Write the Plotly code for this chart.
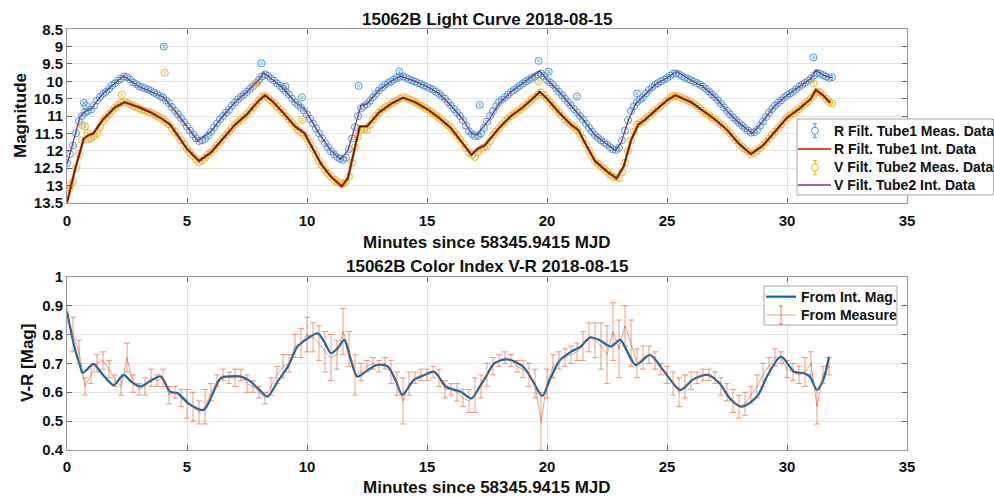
import numpy as np
import plotly.graph_objects as go

# ---------------- data ----------------
# magnitude measurement times: one sample every 0.125 min
T_MAG = np.round(np.arange(0, 32, 0.125), 3)
# colour-index measurement times: one sample every 0.25 min
T_VR = np.round(np.arange(0, 32, 0.25), 2)

R_MEAS = [12.36, 12.1, 11.85, 11.5, 11.15, 11.0, 10.9, 10.86, 10.82, 10.7, 10.55, 10.45, 10.36, 10.3, 10.22, 10.12,
          10.06, 9.98, 9.92, 9.86, 9.88, 9.95, 10.03, 10.08, 10.14, 10.17, 10.2, 10.24, 10.28, 10.33, 10.37, 10.42,
          10.47, 10.55, 10.63, 10.74, 10.85, 10.95, 11.06, 11.18, 11.3, 11.42, 11.53, 11.64, 11.72, 11.7, 11.66, 11.56,
          11.46, 11.33, 11.21, 11.1, 11.0, 10.9, 10.82, 10.7, 10.61, 10.52, 10.44, 10.37, 10.3, 10.22, 10.14, 10.05,
          9.96, 9.86, 9.8, 9.84, 9.92, 9.98, 10.06, 10.13, 10.21, 10.3, 10.38, 10.5, 10.6, 10.68, 10.76, 10.85,
          10.96, 11.08, 11.22, 11.36, 11.5, 11.64, 11.78, 11.9, 12.02, 12.1, 12.18, 12.23, 12.26, 12.2, 11.95, 11.65,
          11.32, 11.0, 10.78, 10.72, 10.66, 10.56, 10.46, 10.36, 10.26, 10.18, 10.1, 10.05, 10.01, 9.95, 9.9, 9.87,
          9.86, 9.9, 9.94, 9.98, 10.01, 10.05, 10.08, 10.12, 10.16, 10.2, 10.24, 10.3, 10.36, 10.43, 10.5, 10.6,
          10.7, 10.8, 10.9, 11.0, 11.12, 11.28, 11.44, 11.52, 11.58, 11.57, 11.5, 11.34, 11.16, 11.0, 10.86, 10.72,
          10.6, 10.53, 10.46, 10.38, 10.31, 10.25, 10.19, 10.12, 10.06, 10.0, 9.95, 9.9, 9.86, 9.81, 9.77, 9.85,
          9.96, 10.03, 10.1, 10.2, 10.3, 10.4, 10.5, 10.6, 10.7, 10.8, 10.9, 11.0, 11.1, 11.22, 11.34, 11.45,
          11.55, 11.63, 11.7, 11.76, 11.82, 11.9, 11.96, 11.98, 11.92, 11.7, 11.42, 11.12, 10.86, 10.72, 10.6, 10.52,
          10.46, 10.35, 10.25, 10.17, 10.1, 10.05, 10.0, 9.95, 9.9, 9.84, 9.78, 9.77, 9.8, 9.85, 9.9, 9.93,
          9.97, 10.01, 10.05, 10.1, 10.15, 10.22, 10.3, 10.38, 10.46, 10.55, 10.65, 10.75, 10.85, 10.95, 11.04, 11.12,
          11.2, 11.28, 11.35, 11.42, 11.48, 11.47, 11.4, 11.28, 11.16, 11.03, 10.9, 10.8, 10.7, 10.62, 10.55, 10.47,
          10.4, 10.35, 10.3, 10.23, 10.16, 10.1, 10.05, 9.98, 9.92, 9.84, 9.76, 9.78, 9.82, 9.86, 9.9, 9.88]
R_OUT_T = [0.7, 0.8, 4.03, 8.1, 9.1, 9.79, 12.15, 13.85, 17.2, 19.65, 20.07, 21.25, 23.75, 31.1]
R_OUT_M = [10.62, 10.7, 9.0, 9.48, 10.15, 10.46, 10.13, 9.72, 10.68, 9.41, 9.72, 10.44, 10.35, 9.31]

V_MEAS = [13.1, 13.0, 12.9, 12.5, 12.1, 11.7, 11.3, 11.5, 11.65, 11.58, 11.5, 11.32, 11.15, 11.05, 10.95, 10.85,
          10.76, 10.68, 10.62, 10.6, 10.62, 10.66, 10.7, 10.74, 10.78, 10.82, 10.85, 10.88, 10.9, 10.95, 11.0, 11.05,
          11.1, 11.17, 11.25, 11.35, 11.46, 11.58, 11.7, 11.82, 11.95, 12.05, 12.15, 12.25, 12.33, 12.28, 12.2, 12.12,
          12.05, 11.95, 11.85, 11.75, 11.65, 11.55, 11.45, 11.35, 11.25, 11.17, 11.1, 11.02, 10.95, 10.85, 10.75, 10.65,
          10.55, 10.45, 10.42, 10.48, 10.55, 10.63, 10.72, 10.81, 10.9, 11.0, 11.1, 11.2, 11.3, 11.4, 11.48, 11.55,
          11.65, 11.8, 11.95, 12.12, 12.3, 12.42, 12.55, 12.65, 12.75, 12.83, 12.9, 12.94, 12.95, 12.9, 12.75, 12.35,
          11.9, 11.6, 11.4, 11.38, 11.4, 11.25, 11.1, 11.0, 10.9, 10.82, 10.75, 10.7, 10.65, 10.6, 10.55, 10.5,
          10.45, 10.48, 10.52, 10.56, 10.6, 10.65, 10.7, 10.75, 10.8, 10.86, 10.92, 10.98, 11.05, 11.12, 11.2, 11.27,
          11.35, 11.45, 11.55, 11.67, 11.8, 11.92, 12.05, 12.12, 12.18, 12.05, 11.95, 11.9, 11.88, 11.72, 11.55, 11.45,
          11.35, 11.25, 11.15, 11.07, 11.0, 10.94, 10.88, 10.82, 10.75, 10.68, 10.6, 10.52, 10.45, 10.38, 10.32, 10.4,
          10.5, 10.6, 10.7, 10.8, 10.9, 11.0, 11.1, 11.18, 11.25, 11.32, 11.4, 11.5, 11.65, 11.82, 12.0, 12.15,
          12.3, 12.38, 12.45, 12.52, 12.6, 12.68, 12.75, 12.78, 12.8, 12.62, 12.35, 12.0, 11.7, 11.45, 11.25, 11.2,
          11.15, 11.07, 11.0, 10.92, 10.85, 10.78, 10.7, 10.62, 10.55, 10.48, 10.42, 10.42, 10.45, 10.48, 10.52, 10.56,
          10.6, 10.66, 10.72, 10.78, 10.85, 10.92, 10.98, 11.04, 11.1, 11.18, 11.25, 11.32, 11.4, 11.5, 11.6, 11.7,
          11.8, 11.88, 11.95, 12.02, 12.1, 12.06, 12.0, 11.93, 11.85, 11.75, 11.65, 11.55, 11.45, 11.35, 11.25, 11.15,
          11.05, 10.98, 10.92, 10.86, 10.8, 10.72, 10.65, 10.58, 10.5, 10.4, 10.3, 10.32, 10.4, 10.5, 10.6, 10.64]
V_OUT_T = [0.1, 0.62, 0.9, 2.29, 4.07, 7.92, 9.8, 19.65, 31.1]
V_OUT_M = [13.1, 11.26, 11.67, 10.39, 9.75, 10.06, 11.1, 10.0, 10.05]

# interpolated light curves
LOW_T = [0, 0.35, 0.7, 0.9, 1.1, 1.5, 2.0, 2.4, 3.0, 3.5, 4.0, 4.3, 4.6, 5.0, 5.5, 6.0, 6.5, 7.0, 7.5,
         8.0, 8.25, 8.6, 9.0, 9.5, 9.9, 10.2, 10.6, 11.0, 11.45, 11.7, 12.0, 12.2, 12.5, 13.0, 13.5,
         14.0, 14.5, 15.0, 15.5, 16.0, 16.5, 16.85, 17.1, 17.4, 17.7, 18.0, 18.5, 19.0, 19.4, 19.7,
         20.0, 20.5, 21.0, 21.3, 21.6, 22.0, 22.5, 22.9, 23.2, 23.5, 23.8, 24.1, 24.5, 25.0, 25.35,
         26.0, 26.5, 27.0, 27.5, 28.0, 28.5, 29.0, 29.5, 30.0, 30.5, 31.0, 31.2, 31.5, 31.8]
LOW_M = [13.5, 12.5, 11.65, 11.55, 11.5, 11.1, 10.75, 10.6, 10.75, 10.9, 11.1, 11.25, 11.55, 11.95, 12.3,
         12.05, 11.65, 11.25, 10.95, 10.55, 10.4, 10.6, 10.9, 11.3, 11.5, 11.9, 12.4, 12.75, 13.03, 12.8,
         11.9, 11.3, 11.3, 10.9, 10.65, 10.47, 10.6, 10.8, 11.05, 11.35, 11.8, 12.12, 11.95, 11.85, 11.6,
         11.35, 11.0, 10.75, 10.5, 10.3, 10.5, 10.9, 11.25, 11.4, 11.8, 12.3, 12.6, 12.8, 12.45, 11.7,
         11.25, 11.1, 10.85, 10.55, 10.4, 10.6, 10.85, 11.1, 11.4, 11.8, 12.1, 11.85, 11.45, 11.05, 10.8,
         10.5, 10.25, 10.4, 10.62]
UP_T = [0, 0.55, 0.8, 1.0, 1.5, 2.0, 2.35, 3.0, 3.5, 4.0, 4.5, 5.0, 5.45, 6.0, 6.5, 7.0, 7.5, 8.0, 8.2,
        8.5, 9.0, 9.5, 9.9, 10.5, 11.0, 11.4, 11.7, 12.0, 12.25, 12.5, 13.0, 13.5, 13.9, 14.5, 15.0,
        15.5, 16.0, 16.5, 16.85, 17.1, 17.3, 17.6, 18.0, 18.5, 19.0, 19.7, 20.0, 20.5, 21.0, 21.5, 22.0,
        22.5, 22.85, 23.1, 23.4, 23.7, 24.0, 24.5, 25.0, 25.4, 26.0, 26.5, 27.0, 27.5, 28.0, 28.55,
        29.0, 29.5, 30.0, 30.5, 31.0, 31.2, 31.5, 31.85]
UP_M = [12.4, 11.0, 10.85, 10.8, 10.35, 10.05, 9.85, 10.15, 10.3, 10.45, 10.85, 11.3, 11.72, 11.45, 11.0,
        10.6, 10.3, 9.95, 9.75, 9.92, 10.2, 10.6, 10.8, 11.5, 12.0, 12.25, 12.0, 11.3, 10.7, 10.65, 10.25,
        10.0, 9.85, 10.0, 10.15, 10.35, 10.7, 11.1, 11.5, 11.55, 11.35, 11.1, 10.65, 10.3, 10.05, 9.7,
        9.95, 10.3, 10.7, 11.1, 11.55, 11.8, 12.0, 11.75, 11.1, 10.65, 10.45, 10.1, 9.9, 9.72, 9.97,
        10.15, 10.45, 10.85, 11.2, 11.5, 11.15, 10.7, 10.4, 10.15, 9.92, 9.68, 9.82, 9.9]

# colour index V-R
VR_INT_T = [0, 0.3, 0.55, 0.65, 0.85, 1.1, 1.5, 1.95, 2.35, 2.7, 3.05, 3.5, 3.9, 4.3, 4.6, 5.15, 5.7,
            6.1, 6.4, 6.8, 7.25, 7.6, 8.0, 8.35, 8.8, 9.2, 9.6, 10.0, 10.45, 10.75, 11.0, 11.3, 11.55,
            11.8, 12.1, 12.5, 12.9, 13.35, 13.7, 13.97, 14.45, 14.9, 15.3, 15.8, 16.4, 16.85, 17.2,
            17.5, 17.8, 18.35, 19.0, 19.4, 19.8, 20.15, 20.55, 21.0, 21.4, 21.8, 22.2, 22.65, 23.05,
            23.35, 23.7, 24.3, 24.9, 25.55, 26.1, 26.7, 27.2, 27.6, 28.1, 28.75, 29.2, 29.75, 30.3,
            30.7, 30.95, 31.25, 31.5, 31.75]
VR_INT = [0.88, 0.76, 0.69, 0.667, 0.68, 0.698, 0.66, 0.625, 0.66, 0.635, 0.62, 0.64, 0.655, 0.602,
          0.597, 0.556, 0.539, 0.6, 0.648, 0.655, 0.654, 0.64, 0.61, 0.585, 0.64, 0.688, 0.758, 0.785,
          0.804, 0.77, 0.735, 0.755, 0.781, 0.72, 0.654, 0.675, 0.694, 0.69, 0.64, 0.591, 0.642, 0.66,
          0.671, 0.619, 0.602, 0.579, 0.62, 0.66, 0.7, 0.714, 0.689, 0.64, 0.587, 0.65, 0.712, 0.74,
          0.758, 0.79, 0.78, 0.758, 0.781, 0.74, 0.694, 0.729, 0.67, 0.608, 0.645, 0.66, 0.63, 0.58,
          0.55, 0.585, 0.66, 0.723, 0.671, 0.666, 0.655, 0.608, 0.64, 0.723]

VR_MEAS = [0.87, 0.80, 0.74, 0.62, 0.66, 0.70, 0.71, 0.68,
           0.64, 0.62, 0.72, 0.63, 0.61, 0.62, 0.65, 0.64,
           0.65, 0.59, 0.60, 0.58, 0.56, 0.55, 0.53, 0.55,
           0.60, 0.64, 0.66, 0.65, 0.65, 0.66, 0.63, 0.62,
           0.60, 0.58, 0.62, 0.66, 0.69, 0.70, 0.76, 0.77,
           0.80, 0.79, 0.77, 0.74, 0.72, 0.73, 0.81, 0.75,
           0.66, 0.67, 0.69, 0.70, 0.69, 0.70, 0.67, 0.63,
           0.57, 0.63, 0.65, 0.66, 0.66, 0.67, 0.65, 0.61,
           0.61, 0.60, 0.58, 0.57, 0.59, 0.62, 0.66, 0.69,
           0.71, 0.72, 0.71, 0.69, 0.68, 0.66, 0.63, 0.50,
           0.63, 0.69, 0.71, 0.72, 0.73, 0.74, 0.76, 0.79,
           0.78, 0.76, 0.73, 0.81, 0.75, 0.83, 0.77, 0.70,
           0.72, 0.73, 0.71, 0.68, 0.66, 0.63, 0.60, 0.62,
           0.64, 0.65, 0.66, 0.66, 0.65, 0.62, 0.60, 0.57,
           0.55, 0.56, 0.59, 0.62, 0.66, 0.69, 0.72, 0.72,
           0.68, 0.67, 0.66, 0.67, 0.70, 0.55, 0.66, 0.69]
VR_ERR = [0.03, 0.06, 0.04, 0.03, 0.03, 0.03, 0.03, 0.03,
          0.02, 0.03, 0.05, 0.03, 0.02, 0.03, 0.03, 0.02,
          0.03, 0.03, 0.02, 0.03, 0.05, 0.05, 0.04, 0.06,
          0.03, 0.02, 0.02, 0.02, 0.03, 0.02, 0.03, 0.02,
          0.02, 0.02, 0.03, 0.03, 0.04, 0.03, 0.04, 0.05,
          0.06, 0.05, 0.06, 0.07, 0.08, 0.05, 0.08, 0.06,
          0.07, 0.03, 0.02, 0.02, 0.02, 0.02, 0.04, 0.04,
          0.08, 0.04, 0.02, 0.02, 0.02, 0.02, 0.03, 0.03,
          0.02, 0.03, 0.03, 0.04, 0.06, 0.04, 0.04, 0.03,
          0.02, 0.02, 0.02, 0.02, 0.03, 0.04, 0.05, 0.10,
          0.05, 0.04, 0.03, 0.03, 0.03, 0.03, 0.05, 0.05,
          0.06, 0.08, 0.10, 0.10, 0.10, 0.07, 0.08, 0.05,
          0.04, 0.03, 0.03, 0.02, 0.03, 0.04, 0.05, 0.04,
          0.03, 0.02, 0.02, 0.02, 0.02, 0.03, 0.03, 0.04,
          0.04, 0.04, 0.03, 0.04, 0.04, 0.03, 0.03, 0.02,
          0.03, 0.03, 0.03, 0.05, 0.04, 0.06, 0.03, 0.03]

X_TICKS = [0, 5, 10, 15, 20, 25, 30, 35]
X_TICKTEXT = ["0", "5", "10", "15", "20", "25", "30", "35"]
MAG_TICKS = [8.5, 9, 9.5, 10, 10.5, 11, 11.5, 12, 12.5, 13, 13.5]
MAG_TICKTEXT = ["8.5", "9", "9.5", "10", "10.5", "11", "11.5", "12", "12.5", "13", "13.5"]
VR_TICKS = [0.4, 0.5, 0.6, 0.7, 0.8, 0.9, 1.0]
VR_TICKTEXT = ["0.4", "0.5", "0.6", "0.7", "0.8", "0.9", "1"]

LEGEND1 = ["R Filt. Tube1 Meas. Data", "R Filt. Tube1 Int. Data",
           "V Filt. Tube2 Meas. Data", "V Filt. Tube2 Int. Data"]
LEGEND2 = ["From Int. Mag.", "From Measure"]

# ---------------- figure ----------------
W, H = 994, 498
FONT = "Liberation Sans, Arial, sans-serif"
BLUE_C = "#4a97cc"
ORANGE = "#D95319"
YELLOW = "#EDB120"
PURPLE = "#7E2F8E"
VR_BLUE = "#0a6aad"
VR_ORANGE = "rgba(217,83,25,0.7)"


def bold(lst):
    return ["<b>%s</b>" % s for s in lst]


fig = go.Figure()

r_t = list(T_MAG) + R_OUT_T
r_m = R_MEAS + R_OUT_M
v_t = list(T_MAG) + V_OUT_T
v_m = V_MEAS + V_OUT_M

fig.add_trace(go.Scatter(
    x=r_t, y=r_m, mode="markers", name=LEGEND1[0],
    marker=dict(symbol="circle-open", size=7, color=BLUE_C, line=dict(width=1, color=BLUE_C)),
    error_y=dict(type="constant", value=0.03, thickness=0.6, width=1.5, color=BLUE_C),
    xaxis="x", yaxis="y"))
fig.add_trace(go.Scatter(
    x=v_t, y=v_m, mode="markers", name=LEGEND1[2],
    marker=dict(symbol="circle-open", size=7, color=YELLOW, line=dict(width=1, color=YELLOW)),
    error_y=dict(type="constant", value=0.03, thickness=0.6, width=1.5, color=YELLOW),
    xaxis="x", yaxis="y"))
fig.add_trace(go.Scatter(
    x=LOW_T, y=LOW_M, mode="lines", name=LEGEND1[1],
    line=dict(color=ORANGE, width=2.6), xaxis="x", yaxis="y"))
fig.add_trace(go.Scatter(
    x=LOW_T, y=LOW_M, mode="lines", name="_core", hoverinfo="skip",
    line=dict(color="#4a2418", width=1.3), xaxis="x", yaxis="y"))
fig.add_trace(go.Scatter(
    x=UP_T, y=UP_M, mode="lines", name=LEGEND1[3],
    line=dict(color=PURPLE, width=1.2), xaxis="x", yaxis="y"))

fig.add_trace(go.Scatter(
    x=VR_INT_T, y=VR_INT, mode="lines", name=LEGEND2[0],
    line=dict(color=VR_BLUE, width=2.2, shape="spline", smoothing=0.8),
    xaxis="x2", yaxis="y2"))
fig.add_trace(go.Scatter(
    x=T_VR, y=VR_MEAS, mode="lines", name=LEGEND2[1],
    line=dict(color=VR_ORANGE, width=0.8),
    error_y=dict(type="data", array=VR_ERR, thickness=0.8, width=3, color=VR_ORANGE),
    xaxis="x2", yaxis="y2"))

XD = [67 / W, 907 / W]
Y1 = [(H - 202.7) / H, (H - 29.3) / H]
Y2 = [(H - 450) / H, (H - 276.7) / H]

tickfont = dict(family=FONT, size=15, color="#111")
axis_common = dict(showline=True, linecolor="#999999", linewidth=1, mirror="ticks",
                   ticks="inside", ticklen=5, tickcolor="#666666", showgrid=True,
                   gridcolor="#e4e4e4", gridwidth=1, zeroline=False, tickfont=tickfont,
                   automargin=False)

fig.update_layout(
    width=W, height=H, margin=dict(l=0, r=0, t=0, b=0, autoexpand=False),
    paper_bgcolor="white", plot_bgcolor="white",
    font=dict(family=FONT, color="#111"), showlegend=False,
    xaxis=dict(domain=XD, range=[0, 35], tickvals=X_TICKS, ticktext=bold(X_TICKTEXT),
               anchor="y", ticklabelstandoff=4, **axis_common),
    yaxis=dict(domain=Y1, range=[13.5, 8.5], tickvals=MAG_TICKS, ticktext=bold(MAG_TICKTEXT),
               anchor="x", **axis_common),
    xaxis2=dict(domain=XD, range=[0, 35], tickvals=X_TICKS, ticktext=bold(X_TICKTEXT),
                anchor="y2", ticklabelstandoff=3, **axis_common),
    yaxis2=dict(domain=Y2, range=[0.4, 1.0], tickvals=VR_TICKS, ticktext=bold(VR_TICKTEXT),
                anchor="x2", **axis_common),
)


def px(x):
    return x / W


def py(y):
    return (H - y) / H


shapes = []
annos = []
LEG_FONT = dict(family=FONT, size=14, color="#111")


def err_symbol(cx, cy, color):
    shapes.append(dict(type="line", x0=px(cx), x1=px(cx), y0=py(cy - 7), y1=py(cy + 7),
                       line=dict(color=color, width=1)))
    for yy in (cy - 7, cy + 7):
        shapes.append(dict(type="line", x0=px(cx - 2), x1=px(cx + 2), y0=py(yy), y1=py(yy),
                           line=dict(color=color, width=1)))
    shapes.append(dict(type="circle", x0=px(cx - 3.5), x1=px(cx + 3.5), y0=py(cy + 3.5),
                       y1=py(cy - 3.5), line=dict(color=color, width=1), fillcolor="white"))


def line_symbol(x0, x1, cy, color, width):
    shapes.append(dict(type="line", x0=px(x0), x1=px(x1), y0=py(cy), y1=py(cy),
                       line=dict(color=color, width=width)))


# legend of the light-curve panel
shapes.append(dict(type="rect", x0=px(797), x1=px(993.5), y0=py(195), y1=py(119),
                   line=dict(color="#a6a6a6", width=1), fillcolor="white"))
rows1 = [130.7, 149, 167.5, 185]
err_symbol(815, rows1[0], BLUE_C)
line_symbol(798, 831, rows1[1], ORANGE, 2)
err_symbol(815, rows1[2], YELLOW)
line_symbol(798, 831, rows1[3], PURPLE, 1.3)
for txt, yy in zip(LEGEND1, rows1):
    annos.append(dict(text="<b>%s</b>" % txt, x=px(832), y=py(yy), xanchor="left",
                      yanchor="middle", font=LEG_FONT))

# legend of the colour-index panel
shapes.append(dict(type="rect", x0=px(764), x1=px(897), y0=py(325), y1=py(286),
                   line=dict(color="#a6a6a6", width=1), fillcolor="white"))
rows2 = [296.7, 315]
line_symbol(766, 796, rows2[0], VR_BLUE, 2.2)
line_symbol(766, 796, rows2[1], VR_ORANGE, 0.8)
shapes.append(dict(type="line", x0=px(781), x1=px(781), y0=py(rows2[1] - 9), y1=py(rows2[1] + 9),
                   line=dict(color=VR_ORANGE, width=1)))
for yy in (rows2[1] - 9, rows2[1] + 9):
    shapes.append(dict(type="line", x0=px(779), x1=px(783), y0=py(yy), y1=py(yy),
                       line=dict(color=VR_ORANGE, width=1)))
for txt, yy in zip(LEGEND2, rows2):
    annos.append(dict(text="<b>%s</b>" % txt, x=px(799), y=py(yy), xanchor="left",
                      yanchor="middle", font=LEG_FONT))

title_font = dict(family=FONT, size=17, color="#111")
for t, x, y, ang in [("15062B Light Curve 2018-08-15", 487, 19, 0),
                     ("Minutes since 58345.9415 MJD", 487, 242, 0),
                     ("15062B Color Index V-R 2018-08-15", 487, 266, 0),
                     ("Minutes since 58345.9415 MJD", 487, 487, 0),
                     ("Magnitude", 20, 116, -90),
                     ("V-R [Mag]", 27, 363, -90)]:
    annos.append(dict(text="<b>%s</b>" % t, x=px(x), y=py(y), xanchor="center",
                      yanchor="middle", textangle=ang, font=title_font))

for s in shapes:
    s.update(xref="paper", yref="paper", layer="above")
    fig.add_shape(**s)
for a in annos:
    fig.add_annotation(xref="paper", yref="paper", showarrow=False, **a)

fig.write_html("out.html")
